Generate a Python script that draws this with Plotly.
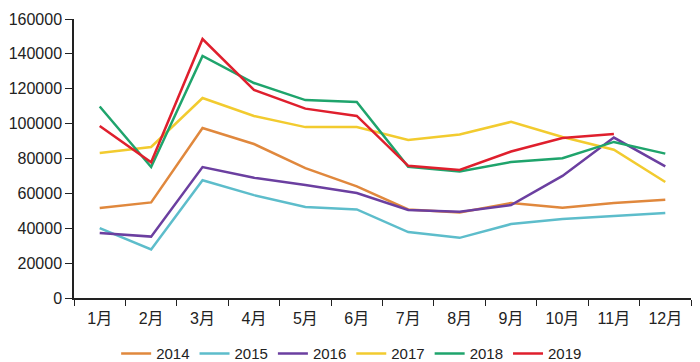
import plotly.graph_objects as go

months = ["1月", "2月", "3月", "4月", "5月", "6月", "7月", "8月", "9月", "10月", "11月", "12月"]
y2014 = [51600, 54800, 97500, 88300, 74500, 64000, 50800, 49000, 54500, 51800, 54500, 56300]
y2015 = [40100, 27800, 67500, 59000, 52200, 50800, 37800, 34500, 42400, 45300, 47000, 48800]
y2016 = [37300, 35200, 75100, 69000, 64800, 60200, 50500, 49500, 53300, 70000, 92000, 75500]
y2017 = [83100, 86600, 114700, 104400, 98000, 98000, 90600, 93800, 101000, 92300, 85000, 66500]
y2018 = [109800, 75100, 138800, 123300, 113500, 112400, 75300, 72600, 78000, 80200, 89500, 82800]
y2019 = [98600, 77800, 148500, 119300, 108600, 104400, 75800, 73400, 84000, 91800, 94000]

series = [
    ("2014", y2014, "#E0883D"),
    ("2015", y2015, "#5DBDCB"),
    ("2016", y2016, "#6B3FA0"),
    ("2017", y2017, "#F2CB2F"),
    ("2018", y2018, "#1FA46C"),
    ("2019", y2019, "#DF1F2D"),
]

fig = go.Figure()
for name, vals, color in series:
    fig.add_trace(go.Scatter(
        x=months[:len(vals)], y=vals, name=name, mode="lines",
        line=dict(color=color, width=2.5),
    ))

font_family = "Liberation Sans, Arial, Noto Sans CJK SC, sans-serif"
fig.update_layout(
    width=700, height=362,
    margin=dict(l=74, r=9, t=19, b=64, autoexpand=False),
    paper_bgcolor="white", plot_bgcolor="white",
    font=dict(family=font_family, size=16, color="#222222"),
    showlegend=True,
    legend=dict(orientation="h", x=0.45, xanchor="center", y=-0.2, yanchor="middle",
                font=dict(size=15), itemwidth=30, tracegroupgap=0),
    xaxis=dict(
        type="category", showgrid=False, showline=True, linecolor="#222222", linewidth=1.5,
        ticks="outside", ticklen=6, tickcolor="#222222", tickson="boundaries",
        tickfont=dict(size=16), range=[-0.5, 11.5], automargin=False,
        ticklabelstandoff=5,
    ),
    yaxis=dict(
        range=[0, 160000], dtick=20000, showgrid=False, showline=True,
        linecolor="#222222", linewidth=1.5, ticks="outside", ticklen=7, tickcolor="#222222",
        tickformat="d", tickfont=dict(size=16), zeroline=False, automargin=False,
    ),
)
fig.write_html("out.html", config={"displayModeBar": False},
               post_script="document.body.style.margin='0px';")
